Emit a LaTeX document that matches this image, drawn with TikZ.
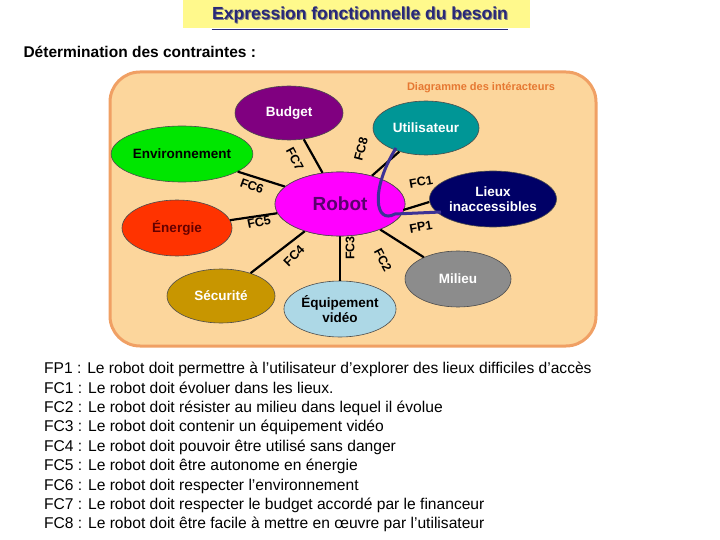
\documentclass[tikz,border=0pt]{standalone}
\usepackage{fontspec}
\setmainfont{Liberation Sans}
\usetikzlibrary{shapes.geometric}
\definecolor{navy}{RGB}{40,40,120}
\definecolor{frameo}{RGB}{240,160,100}
\definecolor{framef}{RGB}{252,214,156}
\definecolor{dlab}{RGB}{230,120,50}
\definecolor{mag}{RGB}{255,0,255}
\definecolor{robt}{RGB}{90,0,110}
\definecolor{budg}{RGB}{128,0,128}
\definecolor{util}{RGB}{0,150,150}
\definecolor{envi}{RGB}{0,230,0}
\definecolor{lieu}{RGB}{0,0,102}
\definecolor{ener}{RGB}{255,51,0}
\definecolor{enet}{RGB}{100,0,0}
\definecolor{secu}{RGB}{200,150,0}
\definecolor{equi}{RGB}{173,216,230}
\definecolor{curv}{RGB}{60,50,150}
\begin{document}
\begin{tikzpicture}[x=1pt,y=-1pt,
 ell/.style={ellipse,draw=black!70,line width=0.6pt,minimum width=#1,font=\bfseries\fontsize{13.5}{15.5}\selectfont,align=center,inner sep=1pt},
 ell/.default=108pt,
 lnk/.style={line width=2.2pt},
 lab/.style={font=\bfseries\fontsize{12.5}{14}\selectfont,inner sep=0pt},
 robotst/.style={ell=130pt,minimum height=64pt,fill=mag,font=\bfseries\fontsize{19}{22}\selectfont,text=robt},
 cv/.style={line width=3pt,curv}]
\useasboundingbox (0,0) rectangle (720,540);
\fill[yellow!45] (183,0) rectangle (530,28);
\node[font=\bfseries\fontsize{17.5}{20}\selectfont,text=black!50] (ts) at (361,16) {Expression fonctionnelle du besoin};
\node[font=\bfseries\fontsize{17.5}{20}\selectfont,text=navy] (t) at (360,15) {Expression fonctionnelle du besoin};
\draw[navy,line width=1pt] ([xshift=3,yshift=-3]t.south west) -- ([xshift=-3,yshift=-3]t.south east);
\node[font=\bfseries\fontsize{15.5}{18}\selectfont,anchor=west] (st) at (20,52) {Détermination des contraintes :};
\draw[draw=frameo,fill=framef,line width=3pt,rounded corners=30pt] (110,72) rectangle (596,346);
\node[font=\bfseries\fontsize{11}{12}\selectfont,text=dlab] (dl) at (481,88) {Diagramme des intéracteurs};
\node[robotst] (r) at (340,204) {Robot};
\node[ell,minimum height=54pt,fill=budg,text=white] (b) at (289,113) {Budget};
\node[ell=106pt,minimum height=54pt,fill=util,text=white] (u) at (426,128) {Utilisateur};
\node[ell,minimum height=56pt,fill=envi] (e) at (182,154) {Environnement};
\node[ell=106pt,minimum height=56pt,fill=lieu,text=white] (l) at (493,199) {Lieux\\inaccessibles};
\node[ell=110pt,minimum height=56pt,fill=ener,text=enet] (en) at (177,228) {Énergie};
\node[ell,minimum height=54pt,fill=secu,text=white] (s) at (221,296) {Sécurité};
\node[ell,minimum height=56pt,fill=equi] (v) at (340,309) {Équipement\\vidéo};
\node[ell=106pt,minimum height=56pt,fill=gray!90,text=white] (m) at (458,279) {Milieu};
\draw[lnk] (b) -- (r);
\draw[lnk] (u) -- (r);
\draw[lnk] (e) -- (r);
\draw[lnk] (en) -- (r);
\draw[lnk] (s) -- (r);
\draw[lnk] (v) -- (r);
\draw[lnk] (m) -- (r);
\node[robotst] (r2) at (340,204) {Robot};
\coordinate (c1) at (396,148);
\coordinate (c2) at (441,212);
\draw[cv] (c1) .. controls (370,190) and (375,225) .. (395,214) -- (c2);
\draw[lnk] ([yshift=-3]l.west) -- ([xshift=-2,yshift=-6]r2.east);
\node[lab,rotate=-62] (f7) at (295,159) {FC7};
\node[lab,rotate=75] (f8) at (361,149) {FC8};
\node[lab,rotate=-20] (f6) at (252,186) {FC6};
\node[lab,rotate=12] (f5) at (259,222) {FC5};
\node[lab,rotate=45] (f4) at (294,256) {FC4};
\node[lab,rotate=90] (f3) at (350,248) {FC3};
\node[lab,rotate=-62] (f2) at (383,260) {FC2};
\node[lab,rotate=10] (f1) at (421,182) {FC1};
\node[lab,rotate=10] (p1) at (421,227) {FP1};
\node[anchor=north west,align=left,font=\fontsize{15.6}{19.4}\selectfont,inner sep=0pt] (txt) at (44,362) {%
FP1 : Le robot doit permettre à l’utilisateur d’explorer des lieux difficiles d’accès\\
FC1 : Le robot doit évoluer dans les lieux.\\
FC2 : Le robot doit résister au milieu dans lequel il évolue\\
FC3 : Le robot doit contenir un équipement vidéo\\
FC4 : Le robot doit pouvoir être utilisé sans danger\\
FC5 : Le robot doit être autonome en énergie\\
FC6 : Le robot doit respecter l’environnement\\
FC7 : Le robot doit respecter le budget accordé par le financeur\\
FC8 : Le robot doit être facile à mettre en œuvre par l’utilisateur};
\end{tikzpicture}
\end{document}
